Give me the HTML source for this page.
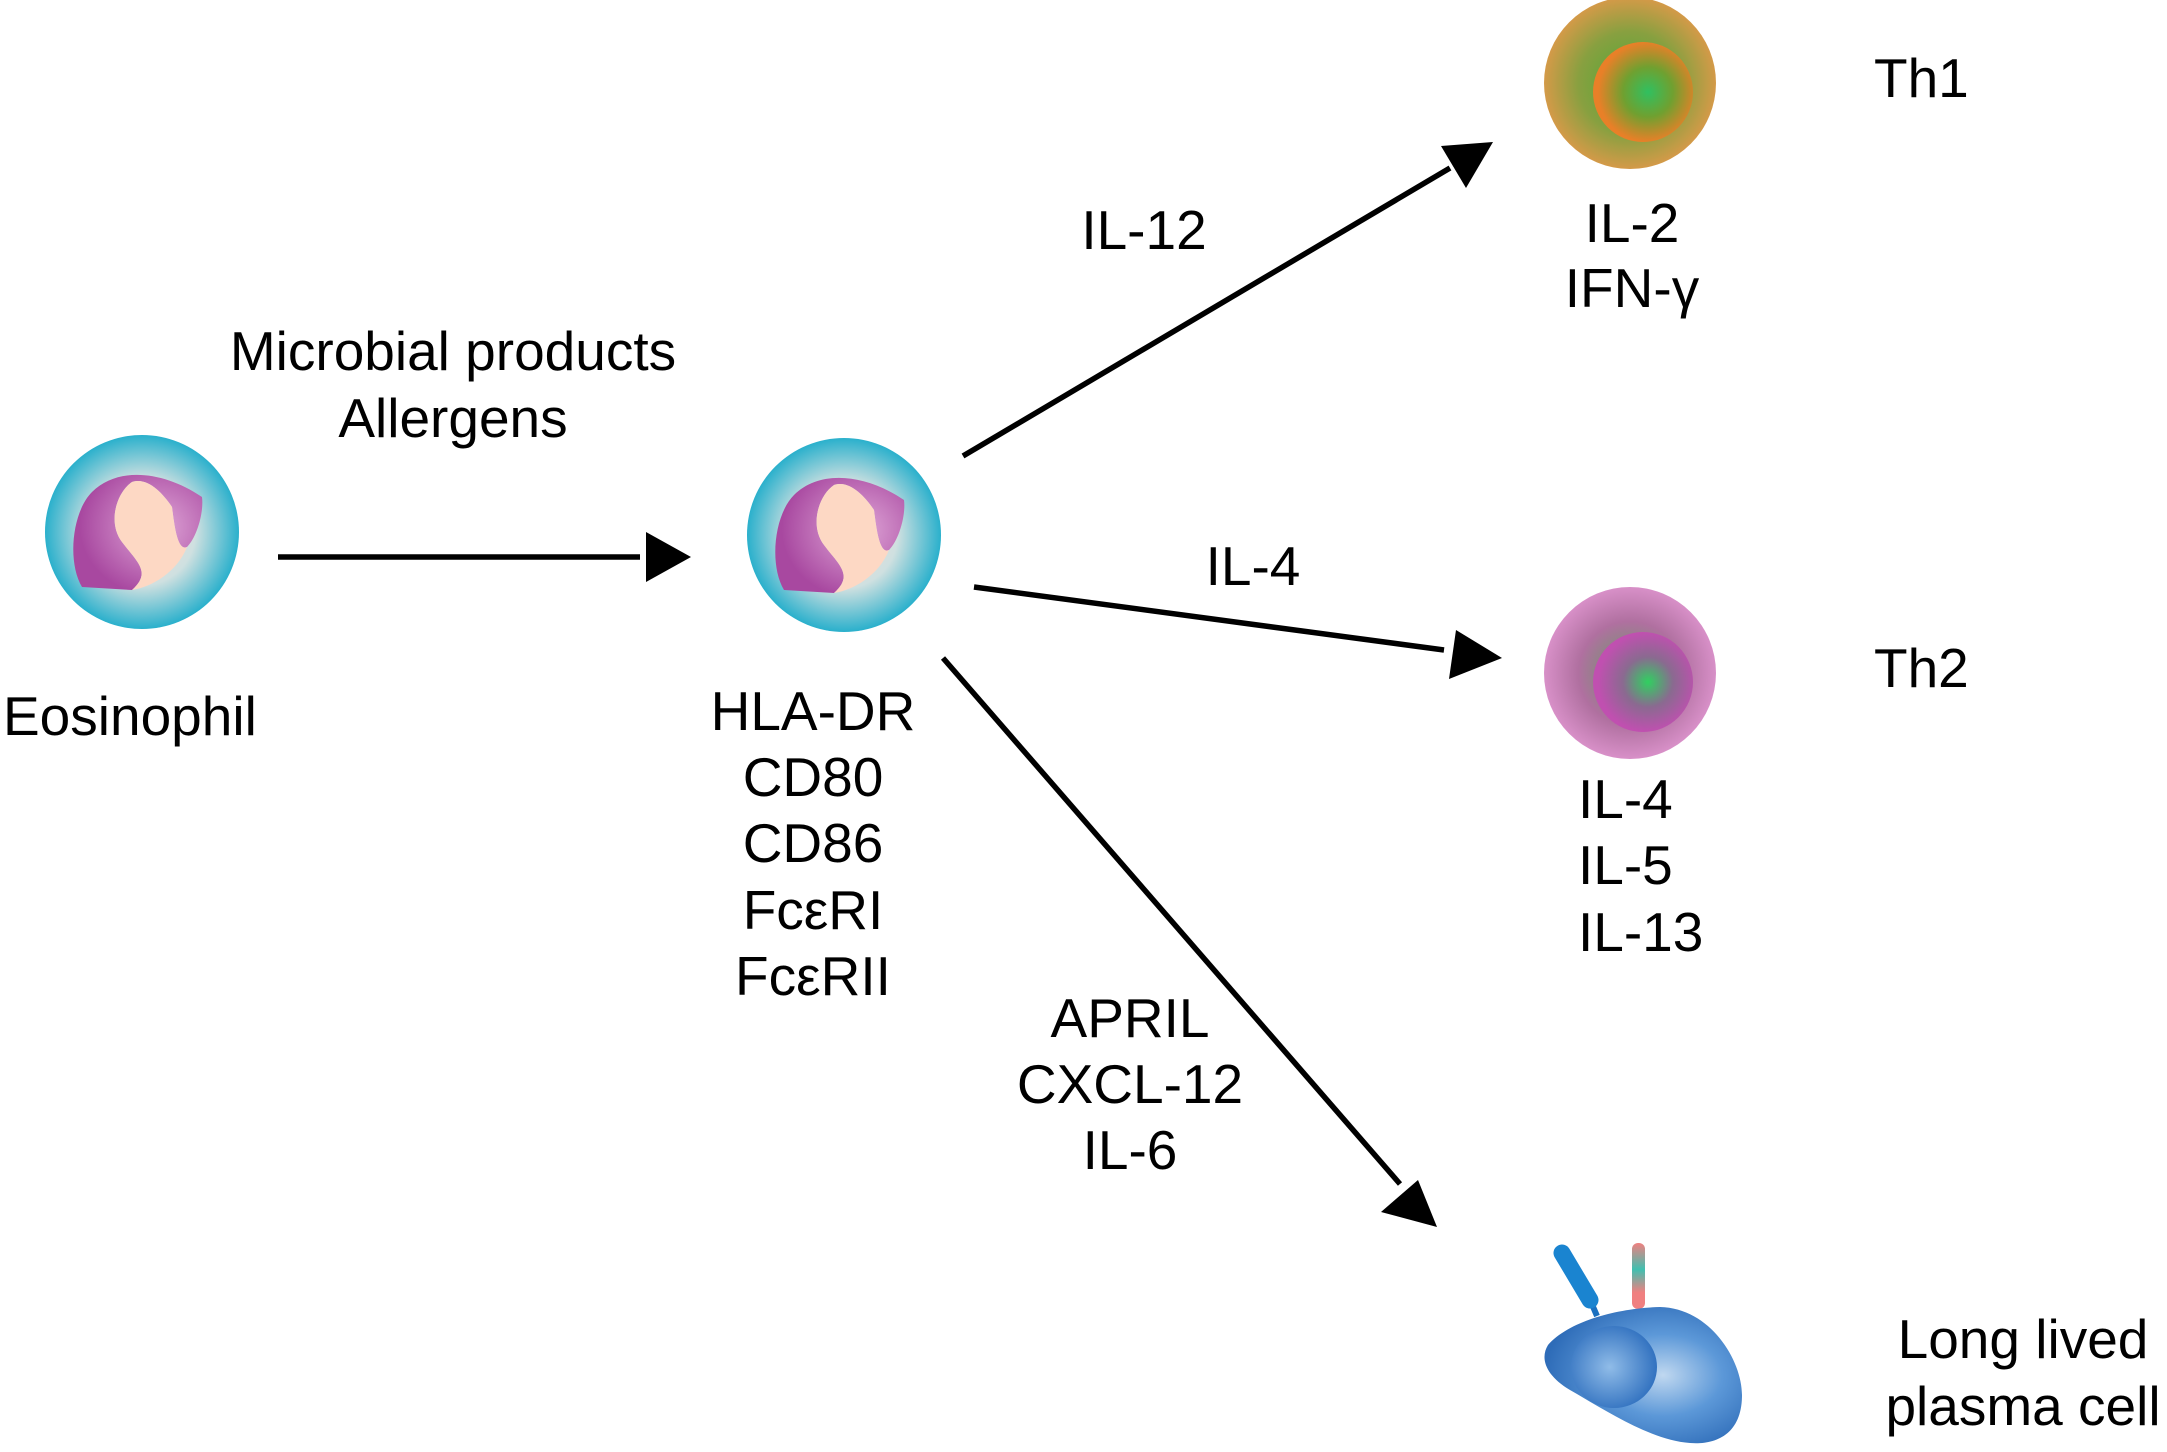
<!DOCTYPE html>
<html><head><meta charset="utf-8">
<style>
html,body{margin:0;padding:0;background:#fff;}
svg{display:block;}
text{font-family:"Liberation Sans",sans-serif;font-size:55px;fill:#000;}
</style></head><body>
<svg width="2167" height="1452" viewBox="0 0 2167 1452" xmlns="http://www.w3.org/2000/svg">
<defs>
<radialGradient id="eoc" cx="50%" cy="50%" r="50%">
<stop offset="0" stop-color="#f4e4d8"/><stop offset="0.55" stop-color="#cfe0e0"/><stop offset="1" stop-color="#2ab0cc"/>
</radialGradient>
<radialGradient id="nuc" cx="65%" cy="45%" r="60%">
<stop offset="0" stop-color="#e0a8d8"/><stop offset="1" stop-color="#a848a0"/>
</radialGradient>
<radialGradient id="th1o" cx="50%" cy="50%" r="50%">
<stop offset="0" stop-color="#50a838"/><stop offset="0.6" stop-color="#88a040"/><stop offset="1" stop-color="#d49a48"/>
</radialGradient>
<radialGradient id="th1i" cx="55%" cy="50%" r="50%">
<stop offset="0" stop-color="#30c060"/><stop offset="0.5" stop-color="#70a030"/><stop offset="1" stop-color="#e88028"/>
</radialGradient>
<radialGradient id="th2o" cx="50%" cy="50%" r="50%">
<stop offset="0" stop-color="#60a060"/><stop offset="0.6" stop-color="#b070a0"/><stop offset="1" stop-color="#d890c8"/>
</radialGradient>
<radialGradient id="th2i" cx="55%" cy="50%" r="50%">
<stop offset="0" stop-color="#30d060"/><stop offset="0.5" stop-color="#8a6a90"/><stop offset="1" stop-color="#c050b0"/>
</radialGradient>
<radialGradient id="pc" cx="60%" cy="50%" r="60%">
<stop offset="0" stop-color="#c0d8f0"/><stop offset="0.5" stop-color="#5c98d8"/><stop offset="1" stop-color="#2e6cb8"/>
</radialGradient>
<radialGradient id="pcn" cx="45%" cy="50%" r="55%">
<stop offset="0" stop-color="#90bce8"/><stop offset="1" stop-color="#3272c0"/>
</radialGradient>
<linearGradient id="stick" x1="0" y1="0" x2="0" y2="1">
<stop offset="0" stop-color="#f08080"/><stop offset="0.4" stop-color="#40c0b0"/><stop offset="0.75" stop-color="#f08080"/><stop offset="1" stop-color="#f08080"/>
</linearGradient>
<g id="eos">
<circle cx="0" cy="0" r="97" fill="url(#eoc)"/>
<path d="M-60,55 C-75,30 -70,-20 -50,-40 C-25,-65 20,-62 60,-35 C62,-20 55,5 45,15 C35,20 32,-10 30,-25 C20,-40 5,-55 -10,-50 C-25,-40 -35,-10 -20,10 C-5,30 10,40 -10,58 Z" fill="url(#nuc)"/>
<path d="M-10,-50 C5,-55 20,-40 30,-25 C32,-10 35,20 45,15 C35,40 10,55 -10,58 C10,40 -5,30 -20,10 C-35,-10 -25,-40 -10,-50 Z" fill="#fdd8c4"/>
</g>
</defs>

<use href="#eos" x="142" y="532"/>
<use href="#eos" x="844" y="535"/>

<circle cx="1630" cy="83" r="86" fill="url(#th1o)"/>
<circle cx="1643" cy="92" r="50" fill="url(#th1i)"/>
<circle cx="1630" cy="673" r="86" fill="url(#th2o)"/>
<circle cx="1643" cy="682" r="50" fill="url(#th2i)"/>

<!-- plasma cell -->
<path d="M1588,1295 L1597,1316" stroke="#1a70c0" stroke-width="6"/>
<path d="M1562,1253 L1590,1300" stroke="#1a84d0" stroke-width="17" stroke-linecap="round"/>
<rect x="1632" y="1243" width="13" height="66" rx="6" fill="url(#stick)"/>
<path d="M1548,1345 C1570,1320 1620,1308 1660,1307 C1710,1308 1742,1360 1742,1395 C1742,1435 1715,1445 1690,1443 C1650,1440 1605,1410 1570,1390 C1545,1375 1540,1358 1548,1345 Z" fill="url(#pc)"/>
<ellipse cx="1614" cy="1367" rx="43" ry="41" fill="url(#pcn)"/>

<g stroke="#000" stroke-width="5.5" fill="none">
<line x1="278" y1="557" x2="640" y2="557"/>
<line x1="963" y1="456" x2="1450" y2="168"/>
<line x1="974" y1="587" x2="1444" y2="650"/>
<line x1="943" y1="658" x2="1400" y2="1184"/>
</g>
<g fill="#000">
<polygon points="691,557 646,532 646,582"/>
<polygon points="1493,142 1441,146 1466,188"/>
<polygon points="1502,658 1456,630 1449,679"/>
<polygon points="1437,1227 1418,1180 1381,1212"/>
</g>

<g text-anchor="middle">
<text x="453" y="370">Microbial products</text>
<text x="453" y="437">Allergens</text>
<text x="813" y="730">HLA-DR</text>
<text x="813" y="796">CD80</text>
<text x="813" y="862">CD86</text>
<text x="813" y="929">FcεRI</text>
<text x="813" y="995">FcεRII</text>
<text x="1144" y="249">IL-12</text>
<text x="1253" y="585">IL-4</text>
<text x="1130" y="1037">APRIL</text>
<text x="1130" y="1103">CXCL-12</text>
<text x="1130" y="1169">IL-6</text>
<text x="1632" y="242">IL-2</text>
<text x="1632" y="307">IFN-γ</text>
<text x="2023" y="1358">Long lived</text>
<text x="2023" y="1425">plasma cell</text>
</g>
<text x="3" y="735">Eosinophil</text>
<text x="1874" y="97">Th1</text>
<text x="1874" y="687">Th2</text>
<text x="1578" y="818">IL-4</text>
<text x="1578" y="884">IL-5</text>
<text x="1578" y="951">IL-13</text>
</svg>
</body></html>
